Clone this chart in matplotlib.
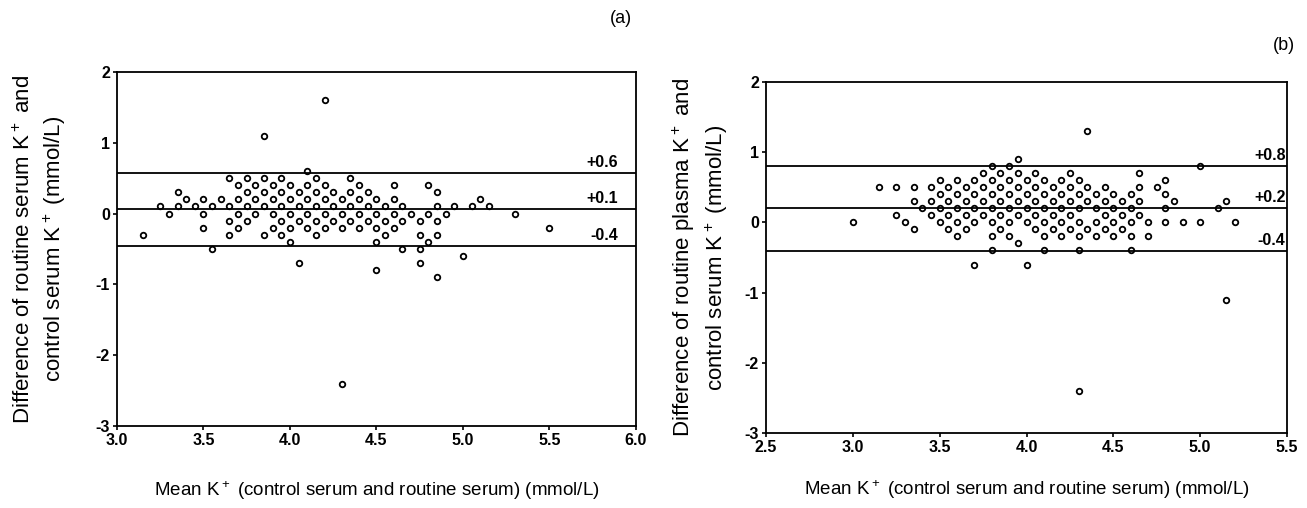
import matplotlib
matplotlib.use("Agg")
import matplotlib.pyplot as plt

plt.rcParams['font.family'] = ['Liberation Sans', 'DejaVu Sans']
plt.rcParams['mathtext.fontset'] = 'custom'
plt.rcParams['mathtext.rm'] = 'Liberation Sans'
plt.rcParams['mathtext.default'] = 'regular'
plt.rcParams['axes.unicode_minus'] = False

# (a) routine serum vs control serum: mean K+ and difference, row by row
a_rows = [1.6, 1.1, 0.6, 0.5, 0.4, 0.3, 0.2, 0.1, 0.0, -0.1, -0.2, -0.3, -0.4, -0.5, -0.6, -0.7, -0.8, -0.9, -2.4]
a_cols = [
    [4.20],
    [3.85],
    [4.10],
    [3.65, 3.75, 3.85, 3.95, 4.15, 4.35],
    [3.70, 3.80, 3.90, 4.00, 4.10, 4.20, 4.40, 4.60, 4.80],
    [3.35, 3.75, 3.85, 3.95, 4.05, 4.15, 4.25, 4.35, 4.45, 4.85],
    [3.40, 3.50, 3.60, 3.70, 3.80, 3.90, 4.00, 4.10, 4.20, 4.30, 4.40, 4.50, 4.60, 5.10],
    [3.25, 3.35, 3.45, 3.55, 3.65, 3.75, 3.85, 3.95, 4.05, 4.15, 4.25, 4.35, 4.45, 4.55, 4.65, 4.85, 4.95, 5.05, 5.15],
    [3.30, 3.50, 3.70, 3.80, 3.90, 4.00, 4.10, 4.20, 4.30, 4.40, 4.50, 4.60, 4.70, 4.80, 4.90, 5.30],
    [3.65, 3.75, 3.95, 4.05, 4.15, 4.25, 4.35, 4.45, 4.55, 4.65, 4.75, 4.85],
    [3.50, 3.70, 3.90, 4.00, 4.10, 4.20, 4.30, 4.40, 4.50, 4.60, 5.50],
    [3.15, 3.65, 3.85, 3.95, 4.15, 4.55, 4.75, 4.85],
    [4.00, 4.50, 4.80],
    [3.55, 4.65, 4.75],
    [5.00],
    [4.05, 4.75],
    [4.50],
    [4.85],
    [4.30],
]
a_lines = [0.57, 0.07, -0.46]
a_line_labels = ["+0.6", "+0.1", "-0.4"]

# (b) routine plasma vs control serum
b_rows = [1.3, 0.9, 0.8, 0.7, 0.6, 0.5, 0.4, 0.3, 0.2, 0.1, 0.0, -0.1, -0.2, -0.3, -0.4, -0.6, -1.1, -2.4]
b_cols = [
    [4.35],
    [3.95],
    [3.80, 3.90, 5.00],
    [3.75, 3.85, 3.95, 4.05, 4.25, 4.65],
    [3.50, 3.60, 3.70, 3.80, 3.90, 4.00, 4.10, 4.20, 4.30, 4.80],
    [3.15, 3.25, 3.35, 3.45, 3.55, 3.65, 3.75, 3.85, 3.95, 4.05, 4.15, 4.25, 4.35, 4.45, 4.65, 4.75],
    [3.50, 3.60, 3.70, 3.80, 3.90, 4.00, 4.10, 4.20, 4.30, 4.40, 4.50, 4.60, 4.80],
    [3.35, 3.45, 3.55, 3.65, 3.75, 3.85, 3.95, 4.05, 4.15, 4.25, 4.35, 4.45, 4.55, 4.65, 4.85, 5.15],
    [3.40, 3.50, 3.60, 3.70, 3.80, 3.90, 4.00, 4.10, 4.20, 4.30, 4.40, 4.50, 4.60, 4.80, 5.10],
    [3.25, 3.45, 3.55, 3.65, 3.75, 3.85, 3.95, 4.05, 4.15, 4.25, 4.45, 4.55, 4.65],
    [3.00, 3.30, 3.50, 3.60, 3.70, 3.80, 3.90, 4.00, 4.10, 4.20, 4.30, 4.40, 4.50, 4.60, 4.70, 4.80, 4.90, 5.00, 5.20],
    [3.35, 3.55, 3.65, 3.85, 4.05, 4.15, 4.25, 4.35, 4.45, 4.55],
    [3.60, 3.80, 3.90, 4.10, 4.20, 4.30, 4.40, 4.50, 4.60, 4.70],
    [3.95],
    [3.80, 4.10, 4.30, 4.60],
    [3.70, 4.00],
    [5.15],
    [4.30],
]
b_lines = [0.80, 0.21, -0.41]
b_line_labels = ["+0.8", "+0.2", "-0.4"]

a_ticks = [3.0, 3.5, 4.0, 4.5, 5.0, 5.5, 6.0]
b_ticks = [2.5, 3.0, 3.5, 4.0, 4.5, 5.0, 5.5]
y_ticks = [2, 1, 0, -1, -2, -3]

xlabel = "Mean K$^+$ (control serum and routine serum) (mmol/L)"
a_ylabel = "Difference of routine serum K$^+$ and\ncontrol serum K$^+$ (mmol/L)"
b_ylabel = "Difference of routine plasma K$^+$ and\ncontrol serum K$^+$ (mmol/L)"

fig = plt.figure(figsize=(13.07, 5.08), dpi=100)
ax_a = fig.add_axes([0.0895, 0.1614, 0.397, 0.697])
ax_b = fig.add_axes([0.5861, 0.1476, 0.3986, 0.691])


def draw_panel(ax, rows, cols, lines, line_labels, xticks, ylabel, lab_x):
    xs = []
    ys = []
    for r, c in zip(rows, cols):
        xs += c
        ys += [r] * len(c)
    ax.plot(xs, ys, 'o', ms=4, mfc='white', mec='black', mew=1.3, zorder=2)
    for v, lab in zip(lines, line_labels):
        ax.axhline(v, color='black', lw=1.3, zorder=3)
        ax.text(lab_x, v + 0.04, lab, transform=ax.get_yaxis_transform(),
                ha='right', va='bottom', fontsize=11.5, fontweight='bold')
    ax.set_xlim(xticks[0], xticks[-1])
    ax.set_ylim(-3, 2)
    ax.set_xticks(xticks)
    ax.set_xticklabels(["%.1f" % t for t in xticks])
    ax.set_yticks(y_ticks)
    ax.set_yticklabels([str(t) for t in y_ticks])
    ax.tick_params(direction='out', length=3, width=1.2, labelsize=11.5, pad=2)
    for lab in ax.get_xticklabels() + ax.get_yticklabels():
        lab.set_fontweight('bold')
    for s in ax.spines.values():
        s.set_linewidth(1.3)
    ax.set_ylabel(ylabel, fontsize=16, linespacing=1.3)
    ax.set_xlabel(xlabel, fontsize=13.5)


draw_panel(ax_a, a_rows, a_cols, a_lines, a_line_labels, a_ticks, a_ylabel, 0.965)
draw_panel(ax_b, b_rows, b_cols, b_lines, b_line_labels, b_ticks, b_ylabel, 0.997)

fig.text(0.475, 0.963, "(a)", fontsize=13, ha='center', va='center')
fig.text(0.982, 0.91, "(b)", fontsize=13, ha='center', va='center')

ax_a.yaxis.set_label_coords(-0.095, 0.5)
ax_b.yaxis.set_label_coords(-0.07, 0.5)
ax_a.xaxis.set_label_coords(0.5, -0.15)
ax_b.xaxis.set_label_coords(0.5, -0.13)

fig.savefig("out.png", dpi=100)
